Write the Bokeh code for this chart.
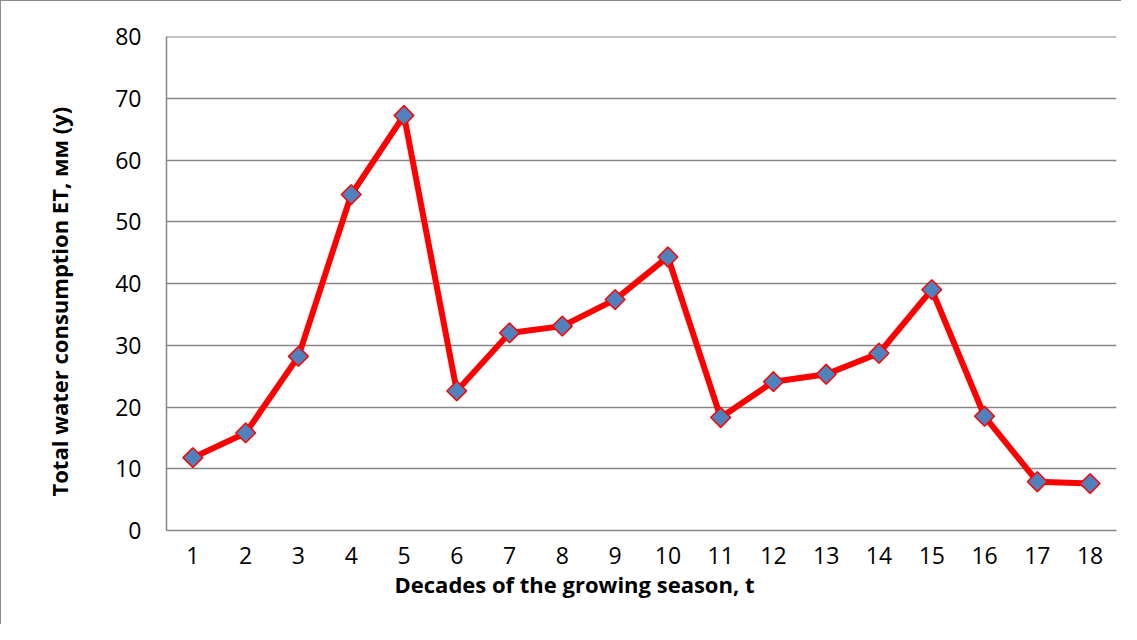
import numpy as np
from bokeh.plotting import figure
from bokeh.models import ColumnDataSource, Title, FixedTicker, Range1d, Span
from bokeh.embed import file_html
from bokeh.resources import INLINE

decades = list(range(1, 19))
et_values = [11.8, 15.8, 28.2, 54.4, 67.2, 22.6, 32.0, 33.1, 37.4, 44.3,
             18.3, 24.1, 25.3, 28.7, 39.0, 18.5, 7.9, 7.6]
y_ticks = [0, 10, 20, 30, 40, 50, 60, 70, 80]
x_title = "Decades of the growing season, t"
y_title = "Total water consumption ET, мм (y)"

FONT = "Open Sans"
GREY = "#868686"

src = ColumnDataSource(dict(x=decades, y=et_values))

p = figure(width=1121, height=624, output_backend="svg", toolbar_location=None,
           x_range=Range1d(0.5, 18.5), y_range=Range1d(0, 80),
           min_border_left=165, min_border_right=6, min_border_top=35, min_border_bottom=95)
p.styles = {"border-top": "1px solid #8c8c8c", "border-left": "1px solid #8c8c8c"}
p.outline_line_color = None
p.background_fill_color = "white"
p.border_fill_color = "white"

p.line("x", "y", source=src, line_color="#FF0000", line_width=6)
p.scatter("x", "y", source=src, marker="square", angle=np.pi / 4, size=14,
          fill_color="#4F81BD", line_color="#FF0000", line_width=1.5)

p.xaxis.ticker = FixedTicker(ticks=decades)
p.yaxis.ticker = FixedTicker(ticks=y_ticks)
for ax in (p.xaxis, p.yaxis):
    ax.major_tick_line_color = None
    ax.minor_tick_line_color = None
    ax.axis_line_color = GREY
    ax.axis_line_width = 1.5
    ax.major_label_text_font = FONT
    ax.major_label_text_font_size = "23px"
    ax.major_label_text_color = "black"
p.xaxis.major_label_standoff = 10
p.yaxis.major_label_standoff = 19

p.xgrid.grid_line_color = None
p.ygrid.grid_line_color = GREY
p.ygrid.grid_line_width = 1.5
p.add_layout(Span(location=y_ticks[-1], dimension="width", line_color=GREY, line_width=2))

xt = Title(text=x_title, align="left", offset=228, text_font=FONT, text_font_style="bold",
           text_font_size="22px", text_color="black", standoff=0)
p.add_layout(xt, "below")
yt = Title(text=y_title, align="left", offset=34, text_font=FONT, text_font_style="bold",
           text_font_size="22px", text_color="black", standoff=77)
p.add_layout(yt, "left")

open("out.html", "w").write(file_html(p, INLINE))
